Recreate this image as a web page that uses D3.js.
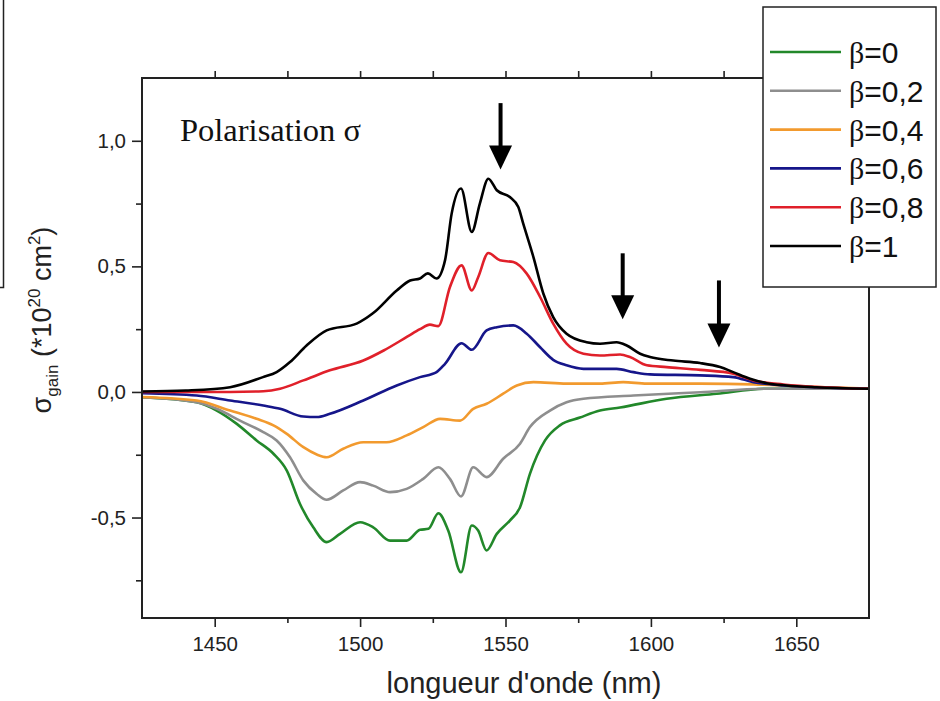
<!DOCTYPE html>
<html><head><meta charset="utf-8">
<script src="https://cdn.jsdelivr.net/npm/d3@7"></script>
<style>body{margin:0;background:#fff}svg{display:block}</style>
</head><body><svg id="c" width="940" height="701"></svg>
<script>
// ---------------- data ----------------
const seriesNames = ["β=0", "β=0,2", "β=0,4", "β=0,6", "β=0,8", "β=1"];
const seriesColors = ["#22882a", "#8e8e8e", "#f29a2e", "#16168a", "#e0202a", "#000000"];

const xBeta0 = [1425,1443.8,1450.7,1457.6,1464.4,1470.2,1474.8,1479.3,1483.9,1488.5,1493.1,1500,1504.5,1510.3,1516,1520.6,1523.5,1526.9,1530.3,1534.7,1538.4,1540.6,1543.5,1547,1551.5,1555,1558.4,1563.6,1568.7,1575.6,1582.5,1589.4,1605.4,1622.6,1639.8,1675];
const yBeta0 = [-0.021,-0.041,-0.074,-0.127,-0.193,-0.246,-0.313,-0.445,-0.539,-0.598,-0.565,-0.519,-0.539,-0.592,-0.592,-0.549,-0.545,-0.483,-0.552,-0.718,-0.532,-0.552,-0.631,-0.565,-0.512,-0.459,-0.326,-0.193,-0.133,-0.102,-0.074,-0.062,-0.027,-0.007,0.013,0.013];

const xBeta02 = [1425,1443.8,1450.7,1458.7,1466.7,1471.3,1475.9,1480.5,1485.1,1488.5,1494.2,1500,1504.5,1510.3,1516,1521.7,1526.9,1530.9,1534.7,1538.9,1543.5,1549.2,1555,1558.4,1565.3,1571,1576.8,1594,1617,1639.8,1675];
const yBeta02 = [-0.021,-0.041,-0.067,-0.114,-0.160,-0.193,-0.260,-0.353,-0.406,-0.429,-0.392,-0.359,-0.373,-0.399,-0.386,-0.346,-0.300,-0.346,-0.416,-0.300,-0.339,-0.266,-0.206,-0.140,-0.074,-0.041,-0.027,-0.014,-0.001,0.013,0.013];

const xBeta04 = [1425,1443.8,1455.3,1464.4,1470.2,1474.8,1480.5,1485.1,1488.5,1494.2,1501.1,1509.1,1516,1521.7,1527.5,1534.4,1538.9,1543.5,1549.2,1553.9,1559.6,1571,1582.5,1590.5,1598.6,1617,1635.2,1651.3,1675];
const yBeta04 = [-0.02,-0.034,-0.074,-0.107,-0.133,-0.167,-0.220,-0.249,-0.260,-0.226,-0.200,-0.200,-0.173,-0.140,-0.107,-0.114,-0.067,-0.047,-0.007,0.026,0.039,0.033,0.033,0.039,0.033,0.033,0.030,0.022,0.013];

const xBeta06 = [1425,1443.8,1455.3,1466.7,1472.5,1480.5,1485.1,1489.6,1501.1,1512.6,1520.6,1526.3,1529.2,1534.9,1538.4,1543.5,1547,1552.7,1557.3,1561.9,1566.4,1571,1576.8,1588.2,1594,1599.7,1616.9,1628.3,1635.2,1645.5,1675];
const yBeta06 = [-0.005,-0.014,-0.034,-0.054,-0.067,-0.098,-0.100,-0.087,-0.034,0.026,0.059,0.079,0.112,0.194,0.168,0.245,0.258,0.265,0.232,0.178,0.128,0.106,0.092,0.092,0.079,0.070,0.066,0.059,0.039,0.026,0.013];

const xBeta08 = [1425,1455.3,1466.7,1472.5,1480.5,1489.6,1501.1,1508.1,1516.2,1520.6,1524,1526.9,1530.9,1534.9,1538.4,1540.6,1544.1,1548.1,1552.7,1557.3,1561.9,1566.4,1571,1576.8,1582.5,1589.4,1592.8,1598.6,1605.4,1617,1628.3,1635.2,1645.5,1675];
const yBeta08 = [0,0,0.003,0.013,0.046,0.086,0.125,0.165,0.22,0.25,0.268,0.262,0.418,0.504,0.404,0.457,0.553,0.524,0.517,0.471,0.378,0.272,0.192,0.152,0.145,0.149,0.139,0.106,0.099,0.088,0.073,0.046,0.030,0.013];

const xBeta1 = [1425,1440,1455.3,1466.6,1471.3,1475.9,1481.6,1488.5,1498.8,1504.4,1512.6,1517.2,1520.6,1523.3,1526.3,1529.2,1531.5,1534.7,1538.4,1541.2,1544.1,1547,1551.5,1554.4,1556.1,1559.6,1563,1566.4,1571,1577.9,1582.5,1588.2,1591.7,1596.3,1599.7,1607.7,1616.9,1623.8,1628.3,1634.1,1639.8,1646.7,1657,1675];
const yBeta1 = [0.002,0.006,0.019,0.059,0.079,0.119,0.185,0.245,0.272,0.313,0.404,0.444,0.452,0.472,0.452,0.524,0.711,0.810,0.637,0.751,0.849,0.803,0.776,0.736,0.670,0.537,0.392,0.298,0.232,0.198,0.192,0.198,0.185,0.152,0.139,0.125,0.115,0.099,0.079,0.053,0.035,0.026,0.019,0.013];

const seriesX = [xBeta0, xBeta02, xBeta04, xBeta06, xBeta08, xBeta1];
const seriesY = [yBeta0, yBeta02, yBeta04, yBeta06, yBeta08, yBeta1];

const xMajorTicks = [1450, 1500, 1550, 1600, 1650];
const xMinorTicks = [1475, 1525, 1575, 1625];
const xTopTicks = [1450, 1475, 1500, 1525, 1550, 1575, 1600, 1625, 1650];
const yMajorTicks = [-0.5, 0, 0.5, 1.0];
const yMinorTicks = [-0.75, -0.25, 0.25, 0.75];

// arrows: wavelength, top value, tip value
const arrowX = [1548.3, 1590.3, 1623.4];
const arrowTop = [1.15, 0.552, 0.444];
const arrowTip = [0.886, 0.289, 0.177];

// ---------------- chart ----------------
const svg = d3.select("#c");
const L = 142, R = 869, T = 78, B = 618;
const x = d3.scaleLinear().domain([1425, 1675]).range([L, R]);
const y = d3.scaleLinear().domain([-0.9, 1.25]).range([B, T]);
const fmtY = d => d3.format(".1f")(d).replace(".", ",").replace("−", "-");
const SANS = "Liberation Sans, Arial, sans-serif";
const SERIF = "Liberation Serif, Times New Roman, serif";

svg.append("rect").attr("width", 940).attr("height", 701).attr("fill", "#fff");

// cropped box fragment on the top-left
svg.append("path").attr("d", "M3.5,0 V287.5 H0").attr("fill", "none").attr("stroke", "#222").attr("stroke-width", 1.5);

svg.append("clipPath").attr("id", "clip").append("rect")
  .attr("x", L).attr("y", T).attr("width", R - L).attr("height", B - T);

// curves
const line = d3.line().curve(d3.curveMonotoneX).x(d => x(d[0])).y(d => y(d[1]));
const g = svg.append("g").attr("clip-path", "url(#clip)");
seriesX.forEach((xs, i) => {
  const pts = xs.map((v, j) => [v, seriesY[i][j]]);
  g.append("path").datum(pts).attr("d", line).attr("fill", "none")
    .attr("stroke", seriesColors[i]).attr("stroke-width", 2.6)
    .attr("stroke-linejoin", "round").attr("stroke-linecap", "round");
});

// axes
const axisStyle = sel => {
  sel.selectAll(".domain").remove();
  sel.selectAll(".tick line").attr("stroke", "#222").attr("stroke-width", 1.6);
  sel.selectAll(".tick text").attr("font-family", SANS).attr("font-size", 20.5).attr("fill", "#222");
};
svg.append("g").attr("transform", `translate(0,${B})`)
  .call(d3.axisBottom(x).tickValues(xMajorTicks).tickSize(9).tickPadding(9).tickFormat(d3.format("d")))
  .call(axisStyle);
svg.append("g").attr("transform", `translate(0,${B})`)
  .call(d3.axisBottom(x).tickValues(xMinorTicks).tickSize(5).tickFormat(""))
  .call(axisStyle);
svg.append("g").attr("transform", `translate(0,${T})`)
  .call(d3.axisTop(x).tickValues(xTopTicks).tickSize(7).tickFormat(""))
  .call(axisStyle);
svg.append("g").attr("transform", `translate(${L},0)`)
  .call(d3.axisLeft(y).tickValues(yMajorTicks).tickSize(10).tickPadding(6).tickFormat(fmtY))
  .call(axisStyle);
svg.append("g").attr("transform", `translate(${L},0)`)
  .call(d3.axisLeft(y).tickValues(yMinorTicks).tickSize(6).tickFormat(""))
  .call(axisStyle);

// frame
svg.append("rect").attr("x", L).attr("y", T).attr("width", R - L).attr("height", B - T)
  .attr("fill", "none").attr("stroke", "#222").attr("stroke-width", 2);

// arrows
arrowX.forEach((a, i) => {
  const ax = x(a), y0 = y(arrowTop[i]), y1 = y(arrowTip[i]);
  svg.append("line").attr("x1", ax).attr("x2", ax).attr("y1", y0).attr("y2", y1 - 20)
    .attr("stroke", "#000").attr("stroke-width", 4);
  svg.append("path").attr("d", `M${ax - 11.5},${y1 - 24} L${ax + 11.5},${y1 - 24} L${ax},${y1} Z`).attr("fill", "#000");
});

// text annotation
svg.append("text").attr("x", 180).attr("y", 141)
  .attr("font-family", SERIF).attr("font-size", 32.5)
  .attr("fill", "#111").text("Polarisation σ");

// axis titles
svg.append("text").attr("x", 524).attr("y", 693).attr("text-anchor", "middle")
  .attr("font-family", SANS).attr("font-size", 29).attr("fill", "#222")
  .text("longueur d'onde (nm)");

const yt = svg.append("text").attr("transform", "translate(51,320) rotate(-90)").attr("text-anchor", "middle")
  .attr("font-family", SANS).attr("font-size", 27).attr("fill", "#222");
yt.append("tspan").text("σ");
yt.append("tspan").attr("font-size", 17).attr("dy", 7).text("gain");
yt.append("tspan").attr("dy", -7).text(" (*10");
yt.append("tspan").attr("font-size", 17).attr("dy", -11).text("20");
yt.append("tspan").attr("dy", 11).text(" cm");
yt.append("tspan").attr("font-size", 17).attr("dy", -11).text("2");
yt.append("tspan").attr("dy", 11).text(")");

// legend
const lg = svg.append("g");
lg.append("rect").attr("x", 763).attr("y", 7).attr("width", 173).attr("height", 280)
  .attr("fill", "#fff").attr("stroke", "#222").attr("stroke-width", 1.5);
seriesNames.forEach((n, i) => {
  const ly = 52 + i * 38.8;
  lg.append("line").attr("x1", 770).attr("x2", 841).attr("y1", ly).attr("y2", ly)
    .attr("stroke", seriesColors[i]).attr("stroke-width", 2.6);
  const t = lg.append("text").attr("x", 849).attr("y", ly + 11)
    .attr("font-family", SANS).attr("font-size", 30).attr("fill", "#111");
  t.append("tspan").attr("font-family", SERIF).text(n.slice(0, 1));
  t.append("tspan").text(n.slice(1));
});
</script>
</body></html>
